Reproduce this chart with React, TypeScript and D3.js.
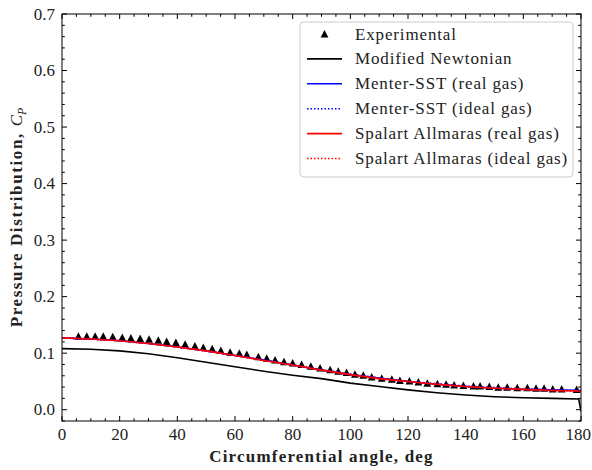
import React from "react";
import * as d3 from "d3";

// ---- data ----
const expAngle = [5.7, 8.6, 11.5, 14.3, 17.6, 20.9, 23.9, 27.1, 30.2, 33.4, 36.3, 39.5, 42.7, 46.1, 49.0, 52.1, 55.1, 58.3, 61.5, 64.1, 68.1, 71.0, 73.9, 77.0, 80.0, 83.1, 86.3, 89.5, 93.0, 95.8, 98.7, 101.6, 104.5, 107.4, 110.9, 114.4, 117.2, 120.5, 123.6, 126.7, 130.2, 133.2, 136.0, 139.2, 142.7, 145.0, 148.2, 151.3, 154.4, 157.9, 161.4, 164.4, 167.2, 170.2, 173.3, 178.5];
const expCp = [0.130, 0.130, 0.130, 0.130, 0.129, 0.128, 0.127, 0.126, 0.125, 0.123, 0.121, 0.119, 0.116, 0.113, 0.110, 0.108, 0.105, 0.102, 0.100, 0.098, 0.094, 0.091, 0.088, 0.085, 0.083, 0.080, 0.077, 0.074, 0.071, 0.068, 0.066, 0.063, 0.061, 0.058, 0.056, 0.054, 0.052, 0.051, 0.049, 0.047, 0.046, 0.045, 0.044, 0.043, 0.042, 0.042, 0.041, 0.040, 0.040, 0.039, 0.039, 0.038, 0.038, 0.037, 0.037, 0.036];

const newtAngle = [0, 10, 20, 30, 40, 50, 60, 70, 80, 90, 100, 110, 120, 130, 140, 150, 160, 170, 179.2, 180];
const newtCp = [0.108, 0.107, 0.104, 0.099, 0.092, 0.084, 0.076, 0.068, 0.061, 0.055, 0.047, 0.041, 0.035, 0.030, 0.026, 0.023, 0.021, 0.020, 0.019, -0.003];

const cfdAngle = [0, 10, 20, 30, 40, 50, 60, 70, 80, 90, 100, 110, 120, 130, 140, 150, 160, 170, 180];
const sstRealCp = [0.127, 0.125, 0.122, 0.117, 0.111, 0.104, 0.096, 0.088, 0.079, 0.070, 0.062, 0.056, 0.050, 0.045, 0.041, 0.038, 0.036, 0.035, 0.034];
const sstIdealCp = [0.127, 0.125, 0.122, 0.117, 0.111, 0.104, 0.096, 0.088, 0.079, 0.071, 0.063, 0.056, 0.050, 0.046, 0.042, 0.039, 0.037, 0.035, 0.034];
const saRealCp = [0.127, 0.125, 0.122, 0.117, 0.111, 0.104, 0.096, 0.087, 0.079, 0.070, 0.062, 0.055, 0.050, 0.045, 0.041, 0.038, 0.036, 0.034, 0.033];
const saIdealCp = [0.127, 0.125, 0.122, 0.117, 0.111, 0.104, 0.096, 0.087, 0.079, 0.070, 0.062, 0.055, 0.050, 0.045, 0.041, 0.038, 0.036, 0.034, 0.033];

const xTicks = [0, 20, 40, 60, 80, 100, 120, 140, 160, 180];
const yTicks = [0.0, 0.1, 0.2, 0.3, 0.4, 0.5, 0.6, 0.7];
const legendLabels = ["Experimental", "Modified Newtonian", "Menter-SST (real gas)", "Menter-SST (ideal gas)", "Spalart Allmaras (real gas)", "Spalart Allmaras (ideal gas)"];

const W = 592, H = 470;
const M = { left: 62, right: 581, top: 14, bottom: 421 };
const FONT = "'Liberation Serif', 'Times New Roman', serif";

export default function App() {
  const x = d3.scaleLinear().domain([0, 180]).range([M.left, M.right]);
  const y = d3.scaleLinear().domain([-0.02, 0.7]).range([M.bottom, M.top]);

  const mkLine = (xs: number[], ys: number[]) =>
    d3.line<number>().x((_, i) => x(xs[i])).y((v) => y(v))(ys) || "";

  const xMinor = d3.range(0, 181, 5).filter((v) => v % 20 !== 0);
  const yMinor = d3.range(-0.02, 0.7001, 0.02).filter((v) => Math.abs(Math.round(v * 10) - v * 10) > 1e-6);

  const tri = "M0,-3.9L3.9,3.6L-3.9,3.6Z";
  const series = [
    { d: mkLine(newtAngle, newtCp), color: "#000", dash: undefined },
    { d: mkLine(cfdAngle, sstRealCp), color: "#0000ff", dash: undefined },
    { d: mkLine(cfdAngle, sstIdealCp), color: "#0000ff", dash: "1.5,2" },
    { d: mkLine(cfdAngle, saRealCp), color: "#ff0000", dash: undefined },
    { d: mkLine(cfdAngle, saIdealCp), color: "#ff0000", dash: "1.5,2" },
  ];
  const legendStyles = [
    null,
    { color: "#000", dash: undefined },
    { color: "#0000ff", dash: undefined },
    { color: "#0000ff", dash: "1.5,2" },
    { color: "#ff0000", dash: undefined },
    { color: "#ff0000", dash: "1.5,2" },
  ];

  const tickLen = 5, minorLen = 2.8;

  return (
    <svg width={W} height={H} style={{ position: "absolute", left: 0, top: 0, background: "#fff" }} fontFamily={FONT}>
      <defs>
        <clipPath id="plotclip">
          <rect x={M.left} y={M.top} width={M.right - M.left} height={M.bottom - M.top} />
        </clipPath>
      </defs>
      <rect x={0} y={0} width={W} height={H} fill="#fff" />
      <g clipPath="url(#plotclip)">
        {expAngle.map((a, i) => (
          <path key={"e" + i} d={tri} transform={`translate(${x(a)},${y(expCp[i])})`} fill="#000" />
        ))}
        {series.map((s, i) => (
          <path key={"s" + i} d={s.d} fill="none" stroke={s.color} strokeWidth={1.6} strokeDasharray={s.dash} />
        ))}
      </g>
      {/* frame */}
      <rect x={M.left} y={M.top} width={M.right - M.left} height={M.bottom - M.top} fill="none" stroke="#000" strokeWidth={1} />
      {/* x ticks */}
      {xTicks.map((t, i) => {
        const last = i === xTicks.length - 1;
        return (
          <g key={"xt" + t}>
            <line x1={x(t)} x2={x(t)} y1={M.bottom} y2={M.bottom - tickLen} stroke="#000" />
            <line x1={x(t)} x2={x(t)} y1={M.top} y2={M.top + tickLen} stroke="#000" />
            <text x={last ? W - 1 : x(t)} y={440} fontSize={17} textAnchor={last ? "end" : "middle"} fill="#222">{t}</text>
          </g>
        );
      })}
      {xMinor.map((t) => (
        <g key={"xm" + t}>
          <line x1={x(t)} x2={x(t)} y1={M.bottom} y2={M.bottom - minorLen} stroke="#000" />
          <line x1={x(t)} x2={x(t)} y1={M.top} y2={M.top + minorLen} stroke="#000" />
        </g>
      ))}
      {yTicks.map((t) => (
        <g key={"yt" + t}>
          <line x1={M.left} x2={M.left + tickLen} y1={y(t)} y2={y(t)} stroke="#000" />
          <line x1={M.right} x2={M.right - tickLen} y1={y(t)} y2={y(t)} stroke="#000" />
          <text x={55} y={y(t) + 5.5} fontSize={17} textAnchor="end" fill="#222">{t.toFixed(1)}</text>
        </g>
      ))}
      {yMinor.map((t, i) => (
        <g key={"ym" + i}>
          <line x1={M.left} x2={M.left + minorLen} y1={y(t)} y2={y(t)} stroke="#000" />
          <line x1={M.right} x2={M.right - minorLen} y1={y(t)} y2={y(t)} stroke="#000" />
        </g>
      ))}
      {/* axis labels */}
      <text x={(M.left + M.right) / 2} y={462} fontSize={17} fontWeight="bold" textAnchor="middle" letterSpacing={1.2} fill="#222">
        Circumferential angle, deg
      </text>
      <text transform={`translate(22,${(M.top + M.bottom) / 2}) rotate(-90)`} fontSize={17} textAnchor="middle" fill="#222">
        <tspan fontWeight="bold" letterSpacing={1.6}>Pressure Distribution, </tspan>
        <tspan fontStyle="italic">C</tspan>
        <tspan fontStyle="italic" fontSize={12} dy={4}>P</tspan>
      </text>
      {/* legend */}
      <rect x={300} y={22} width={273} height={155} rx={4} fill="#fff" fillOpacity={0.8} stroke="#ccc" strokeWidth={1} />
      {legendLabels.map((lab, i) => {
        const cy = 34 + i * 24.9;
        const st = legendStyles[i];
        return (
          <g key={"lg" + i}>
            {st ? (
              <line x1={307} x2={342} y1={cy} y2={cy} stroke={st.color} strokeWidth={1.6} strokeDasharray={st.dash} />
            ) : (
              <path d={tri} transform={`translate(324.5,${cy})`} fill="#000" />
            )}
            <text x={355} y={cy + 5.5} fontSize={17} letterSpacing={0.85} fill="#222">{lab}</text>
          </g>
        );
      })}
    </svg>
  );
}
